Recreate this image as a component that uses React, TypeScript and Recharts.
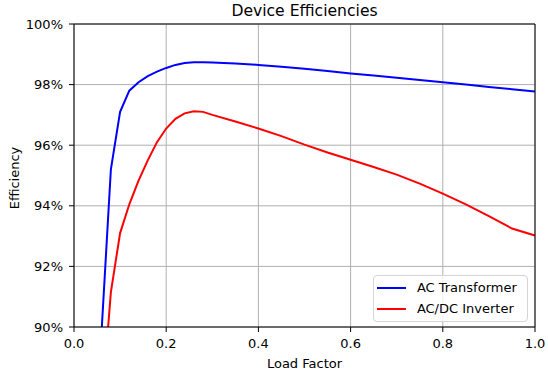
import { LineChart, Line, XAxis, YAxis, CartesianGrid, Legend } from "recharts";

// load factor samples (denser near the knee)
const loadFactor = [
  0.06, 0.08, 0.1, 0.12, 0.14, 0.16, 0.18, 0.2, 0.22, 0.24, 0.26, 0.28, 0.3,
  0.35, 0.4, 0.45, 0.5, 0.55, 0.6, 0.65, 0.7, 0.75, 0.8, 0.85, 0.9, 0.95, 1.0,
];

// efficiency in %
const acTransformer = [
  89.9, 95.2, 97.1, 97.8, 98.08, 98.28, 98.43, 98.55, 98.65, 98.71, 98.74, 98.74, 98.73,
  98.7, 98.65, 98.59, 98.52, 98.45, 98.37, 98.3, 98.23, 98.15, 98.08, 98.0, 97.92, 97.85, 97.77,
];

const acDcInverter = [
  87.3, 91.15, 93.1, 94.05, 94.83, 95.5, 96.1, 96.55, 96.87, 97.05, 97.12, 97.1, 97.0,
  96.78, 96.55, 96.3, 96.02, 95.76, 95.52, 95.28, 95.03, 94.73, 94.4, 94.05, 93.66, 93.25, 93.02,
];

const xTicks = [0, 0.2, 0.4, 0.6, 0.8, 1.0];
const yTicks = [90, 92, 94, 96, 98, 100];

const seriesKeys = ["transformer", "inverter"];
const seriesNames = ["AC Transformer", "AC/DC Inverter"];
const seriesColors = ["#0000ff", "#ff0000"];

const data = loadFactor.map((x, i) => ({
  load: x,
  transformer: acTransformer[i],
  inverter: acDcInverter[i],
}));

const tickStyle = { fill: "#000", fontSize: 13 };

function TitleLabel({ viewBox }: any) {
  return (
    <text
      x={viewBox.x + viewBox.width / 2}
      y={viewBox.y + viewBox.height - 8}
      textAnchor="middle"
      fontSize={15.6}
      fill="#000"
    >
      Device Efficiencies
    </text>
  );
}

function XLabel({ viewBox }: any) {
  return (
    <text x={viewBox.x + viewBox.width / 2} y={viewBox.y + 40.5} textAnchor="middle" fontSize={13} fill="#000">
      Load Factor
    </text>
  );
}

function YLabel({ viewBox }: any) {
  const cx = viewBox.x + 14;
  const cy = viewBox.y + viewBox.height / 2 + 2.5;
  return (
    <text
      x={cx}
      y={cy}
      transform={`rotate(-90 ${cx} ${cy})`}
      textAnchor="middle"
      dominantBaseline="central"
      fontSize={13}
      fill="#000"
    >
      Efficiency
    </text>
  );
}

function LegendBox() {
  return (
    <div
      style={{
        boxSizing: "border-box",
        width: 155,
        height: 47,
        border: "1px solid #d4d4d4",
        borderRadius: 4,
        background: "rgba(255,255,255,0.8)",
        paddingTop: 1,
        paddingLeft: 3.6,
        fontSize: 13,
        color: "#000",
      }}
    >
      {seriesNames.map((name, i) => (
        <div key={name} style={{ display: "flex", alignItems: "center", height: 21, lineHeight: "21px" }}>
          <svg width={29} height={2} style={{ display: "block" }}>
            <line x1={0} y1={1} x2={29} y2={1} stroke={seriesColors[i]} strokeWidth={2} />
          </svg>
          <span style={{ marginLeft: 10.6, whiteSpace: "nowrap" }}>{name}</span>
        </div>
      ))}
    </div>
  );
}

export default function App() {
  return (
    <div
      style={{
        position: "absolute",
        left: 0,
        top: 0,
        width: 548,
        height: 372,
        background: "#fff",
        fontFamily: '"DejaVu Sans", sans-serif',
      }}
    >
      <LineChart width={548} height={372} data={data} margin={{ top: 0, right: 0, bottom: 0, left: 0 }}>
        <CartesianGrid stroke="#b0b0b0" strokeWidth={1} />
        <XAxis
          dataKey="load"
          type="number"
          domain={[0, 1]}
          ticks={xTicks}
          tickFormatter={(v: number) => v.toFixed(1)}
          height={45}
          tickSize={5}
          tickMargin={7}
          tick={tickStyle}
          axisLine={{ stroke: "#000" }}
          tickLine={{ stroke: "#000" }}
          label={{ content: XLabel }}
        />
        <XAxis
          xAxisId="top"
          orientation="top"
          type="number"
          domain={[0, 1]}
          ticks={xTicks}
          height={24}
          tick={false}
          tickLine={false}
          axisLine={{ stroke: "#000" }}
          label={{ content: TitleLabel }}
        />
        <YAxis
          type="number"
          domain={[90, 100]}
          ticks={yTicks}
          allowDataOverflow
          tickFormatter={(v: number) => `${v}%`}
          width={74}
          tickSize={5}
          tickMargin={6}
          tick={tickStyle}
          axisLine={{ stroke: "#000" }}
          tickLine={{ stroke: "#000" }}
          label={{ content: YLabel }}
        />
        <YAxis
          yAxisId="right"
          orientation="right"
          type="number"
          domain={[90, 100]}
          ticks={yTicks}
          width={13}
          tick={false}
          tickLine={false}
          axisLine={{ stroke: "#000" }}
        />
        {seriesKeys.map((k, i) => (
          <Line
            key={k}
            dataKey={k}
            name={seriesNames[i]}
            type="linear"
            stroke={seriesColors[i]}
            strokeWidth={2}
            dot={false}
            activeDot={false}
            isAnimationActive={false}
          />
        ))}
        <Legend
          layout="vertical"
          align="center"
          verticalAlign="middle"
          content={LegendBox}
          wrapperStyle={{ left: 372.7, top: 275, width: 155, height: 47 }}
        />
      </LineChart>
    </div>
  );
}
